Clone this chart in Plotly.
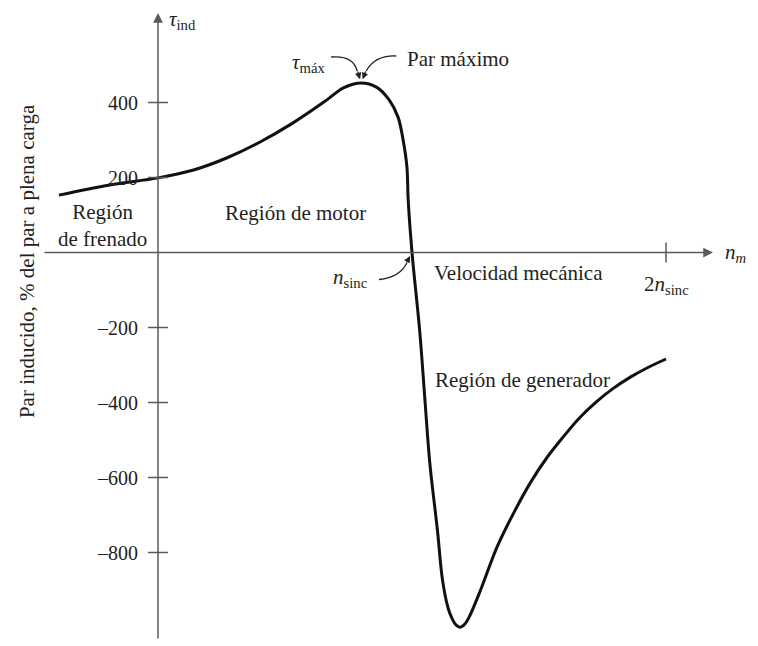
import plotly.graph_objects as go

# Torque-speed characteristic of an induction machine.
# speed in multiples of n_sinc, torque in % of full-load torque
SPEED = [-0.39, -0.19, 0.0, 0.14, 0.27, 0.40, 0.53, 0.665, 0.73, 0.80, 0.86, 0.91,
         0.945, 0.965, 0.98, 0.985, 1.0, 1.03, 1.05, 1.07, 1.10, 1.12, 1.142, 1.157,
         1.173, 1.19, 1.209, 1.228, 1.27, 1.335, 1.40, 1.465, 1.53, 1.595, 1.661, 1.728,
         1.791, 1.858, 1.925, 2.0]
TORQUE = [153, 180, 199, 220, 252, 294, 345, 407, 439, 452, 441, 407,
          361, 300, 228, 140, 0, -207, -385, -561, -740, -873, -948, -975,
          -993, -999, -990, -968, -900, -785, -695, -615, -548, -492, -440, -397,
          -363, -333, -308, -284]

Y_TICKS = [400, 200, -200, -400, -600, -800]
Y_TICK_TEXT = ["400", "200", "–200", "–400", "–600", "–800"]
X_TICKS = [2.0]

X_RANGE = [-0.4646, 2.2913]
Y_RANGE = [-1044, 652]

FONT = "Liberation Serif, Times New Roman, serif"
INK = "#231f20"
AXIS = "#5a5a5a"
FS = 21

i_max = TORQUE.index(max(TORQUE))
peak = (SPEED[i_max], TORQUE[i_max])
n_sync = SPEED[TORQUE.index(0)]

fig = go.Figure()
fig.add_trace(go.Scatter(x=SPEED, y=TORQUE, mode="lines",
                         line=dict(color="#111111", width=3, shape="spline", smoothing=1),
                         hoverinfo="skip"))

# axes drawn as arrows
fig.add_annotation(x=2.185, y=0, ax=-0.453, ay=0, axref="x", ayref="y", text="",
                   showarrow=True, arrowhead=2, arrowsize=1.3, arrowwidth=1.5, arrowcolor=AXIS)
fig.add_annotation(x=0, y=639, ax=0, ay=-1033, axref="x", ayref="y", text="",
                   showarrow=True, arrowhead=2, arrowsize=1.3, arrowwidth=1.5, arrowcolor=AXIS)

shapes = []
for v in Y_TICKS:
    shapes.append(dict(type="line", xref="x", yref="y", xsizemode="pixel", xanchor=0,
                       x0=-10, x1=10, y0=v, y1=v, line=dict(color=AXIS, width=1.5)))
for v in X_TICKS:
    shapes.append(dict(type="line", xref="x", yref="y", ysizemode="pixel", yanchor=0,
                       y0=-10, y1=10, x0=v, x1=v, line=dict(color=AXIS, width=1.5)))


def curved(anchor, pts):
    # quadratic bezier in pixel offsets (screen: +y down) around a data anchor
    (x0, y0), (cx, cy), (x1, y1) = pts
    return dict(type="path", xref="x", yref="y", xsizemode="pixel", ysizemode="pixel",
                xanchor=anchor[0], yanchor=anchor[1],
                path=f"M{x0},{-y0} Q{cx},{-cy} {x1},{-y1}",
                line=dict(color=INK, width=1.3))


shapes.append(curved(peak, [(-30, -26), (-8, -28), (-4, -12)]))
shapes.append(curved(peak, [(35, -27), (14, -28), (5, -12)]))
shapes.append(curved((n_sync, 0), [(-33, 27), (-12, 25), (-5, 10)]))

for ax_, ay_, anchor in [(-4, -13, peak), (5, -13, peak), (-6, 11, (n_sync, 0))]:
    fig.add_annotation(x=anchor[0], y=anchor[1], ax=ax_, ay=ay_, text="", showarrow=True,
                       arrowhead=2, arrowsize=1, arrowwidth=1.3, arrowcolor=INK, standoff=4)

labels = [
    (0.035, 620, "<i>τ</i><sub>ind</sub>", "left"),
    (0.520, 505, "<i>τ</i><sub>máx</sub>", "left"),
    (0.972, 516, "Par máximo", "left"),
    (-0.217, 71, "Región<br>de frenado", "center"),
    (0.543, 105, "Región de motor", "center"),
    (0.835, -68, "<i>n</i><sub>sinc</sub>", "right"),
    (1.079, -55, "Velocidad mecánica", "left"),
    (2.0, -87, "2<i>n</i><sub>sinc</sub>", "center"),
    (2.224, 0, "<i>n</i><sub><i>m</i></sub>", "left"),
    (1.083, -340, "Región de generador", "left"),
]
for x, y, t, anc in labels:
    fig.add_annotation(x=x, y=y, text=t, showarrow=False, xanchor=anc, yanchor="middle",
                       font=dict(family=FONT, size=FS, color=INK))

fig.add_annotation(x=-0.0186, xref="paper", y=-23, yref="y", xanchor="center",
                   yanchor="middle", text="Par inducido, % del par a plena carga",
                   textangle=-90, showarrow=False, font=dict(family=FONT, size=FS, color=INK))

fig.update_layout(
    width=750, height=638,
    margin=dict(l=32, r=18, t=0, b=2),
    paper_bgcolor="white", plot_bgcolor="white",
    showlegend=False,
    shapes=shapes,
    xaxis=dict(range=X_RANGE, visible=False),
    yaxis=dict(range=Y_RANGE, anchor="free", position=(150 - 32) / 700,
               tickvals=Y_TICKS, ticktext=Y_TICK_TEXT, ticks="", showline=False,
               showgrid=False, zeroline=False, ticklabelstandoff=20,
               tickfont=dict(family=FONT, size=20, color=INK)),
)

fig.write_html("out.html")
